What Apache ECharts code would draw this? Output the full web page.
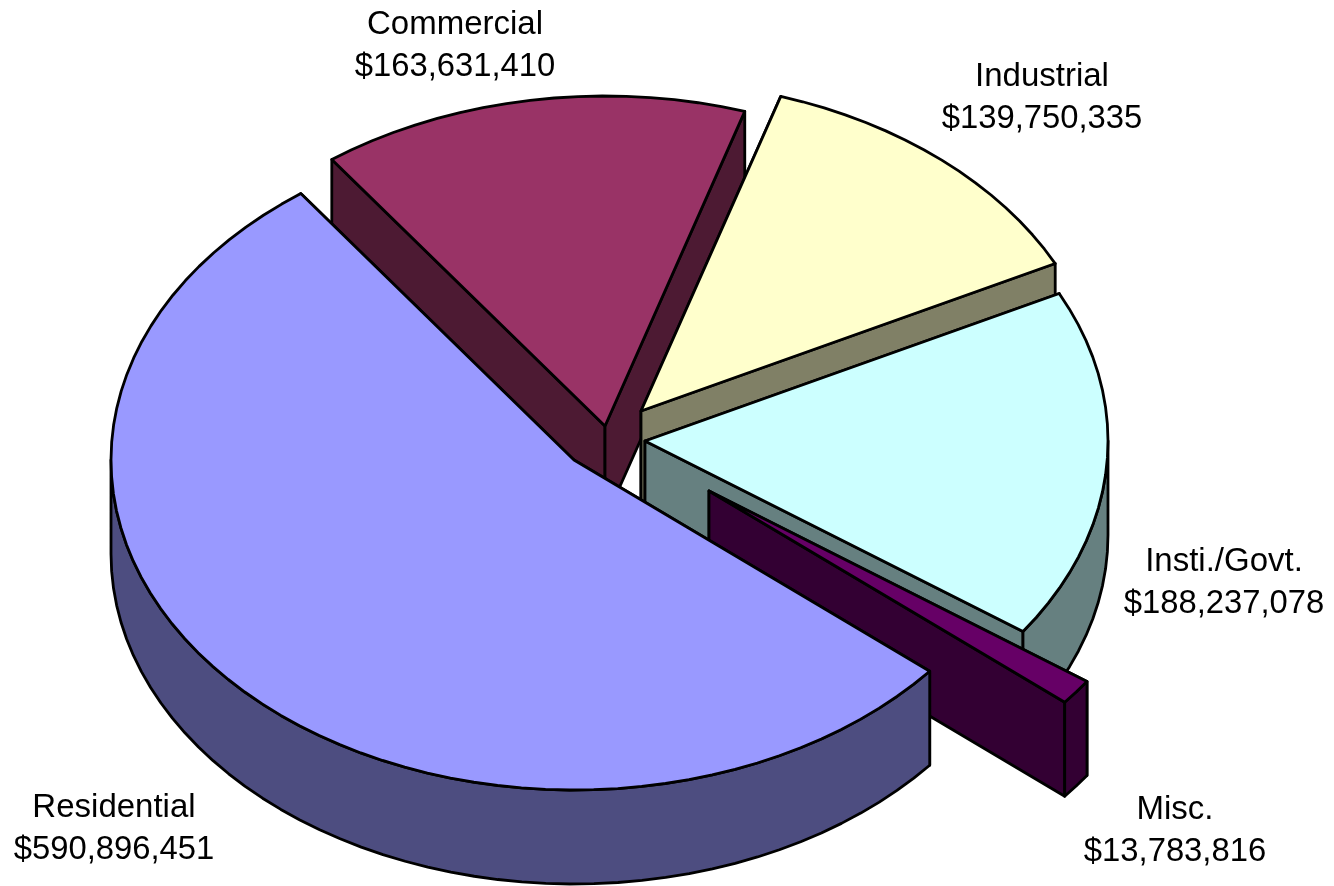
<!DOCTYPE html>
<html><head><meta charset="utf-8">
<style>html,body{margin:0;padding:0;background:#fff}#c{width:1334px;height:886px}</style>
<script src="https://cdn.jsdelivr.net/npm/echarts@6/dist/echarts.min.js"></script>
</head><body><div id="c"></div>
<script>
// Data (clockwise from Residential)
const categories = ['Residential','Commercial','Industrial','Insti./Govt.','Misc.'];
const values = [590896451,163631410,139750335,188237078,13783816];

// Styling and geometry, kept apart from the data
const topColors  = ['#9999FF','#993366','#FFFFCC','#CCFFFF','#660066'];
const sideColors = ['#4D4D80','#4D1A33','#808066','#668080','#330033'];
const centers = [[574,460],[605,426],[641,411],[645,441],[709,491]];
const labelPos = [[114,829],[455,46],[1042,98],[1224,583],[1175,831]];
const paintOrder = [1,2,3,4,0];
const RX = 463, RY = 330, DEPTH = 94, START_DEG = 39.8, STEP = 3;

const total = values.reduce((a,b)=>a+b,0);
const spans = []; let acc = START_DEG;
values.forEach(v=>{const s=v/total*360; spans.push([acc,acc+s]); acc+=s;});
const rad = d=>d*Math.PI/180;
const fmt = v=>'$'+v.toLocaleString('en-US');

function renderItem(params, api){
  const i = api.value(0);
  const [a0,a1] = spans[i];
  const [cx,cy] = centers[i];
  const pt = (d,dz)=>[cx+RX*Math.cos(rad(d)), cy+RY*Math.sin(rad(d))+(dz||0)];
  const arc = (from,to,dz)=>{
    const out=[]; const n=Math.max(1,Math.ceil((to-from)/STEP));
    for(let k=0;k<=n;k++) out.push(pt(from+(to-from)*k/n,dz));
    return out;
  };
  const style = {stroke:'#000',lineWidth:2.8,lineJoin:'round'};
  const poly = (points,fill)=>({type:'polygon',shape:{points},style:Object.assign({fill},style)});
  const kids = [];
  const wall = d=>poly([[cx,cy],pt(d),pt(d,DEPTH),[cx,cy+DEPTH]],sideColors[i]);
  kids.push(wall(a0), wall(a1));
  // outer rim: only the front-facing part of the arc
  [[0,180],[360,540]].forEach(([lo,hi])=>{
    const f=Math.max(a0,lo), t=Math.min(a1,hi);
    if(t>f) kids.push(poly(arc(f,t,0).concat(arc(f,t,DEPTH).reverse()),sideColors[i]));
  });
  kids.push(poly([[cx,cy]].concat(arc(a0,a1,0)),topColors[i]));
  return {type:'group',children:kids};
}

const chart = echarts.init(document.getElementById('c'),null,{renderer:'canvas'});
chart.setOption({
  backgroundColor:'#fff',
  animation:false,
  xAxis:{show:false}, yAxis:{show:false},
  series:[{
    type:'custom',
    coordinateSystem:'none',
    silent:true,
    data:paintOrder.map(i=>[i,values[i]]),
    renderItem
  },{
    type:'custom',
    coordinateSystem:'none',
    silent:true,
    data:categories.map((c,i)=>[i]),
    renderItem(params,api){
      const i=api.value(0);
      return {type:'text',style:{
        x:labelPos[i][0],y:labelPos[i][1],
        text:'{n|'+categories[i]+'}\n{v|'+fmt(values[i])+'}',
        fill:'#000',
        align:'center',verticalAlign:'middle',
        rich:{
          n:{fill:'#000',font:'33px "Liberation Sans", Arial, sans-serif',lineHeight:42},
          v:{fill:'#000',font:'32.8px "Liberation Sans", Arial, sans-serif',lineHeight:42}
        }
      }};
    }
  }]
});
</script></body></html>
